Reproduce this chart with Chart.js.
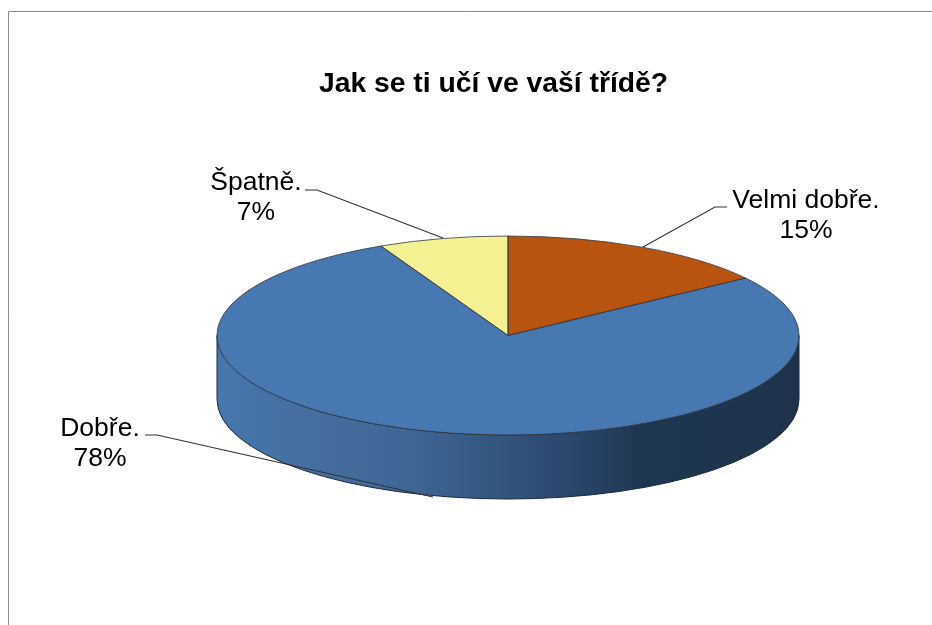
<!DOCTYPE html>
<html>
<head>
<meta charset="utf-8">
<title>Jak se ti učí ve vaší třídě?</title>
<script src="https://cdn.jsdelivr.net/npm/chart.js@4"></script>
<style>
  html, body { margin: 0; padding: 0; background: #fff; }
  #wrap { position: relative; width: 932px; height: 625px; overflow: hidden; }
  #cv { display: block; }
</style>
</head>
<body>
<div id="wrap"><canvas id="cv" width="932" height="625"></canvas></div>
<script>
const chartTitle = 'Jak se ti učí ve vaší třídě?';
const categories = ['Velmi dobře.', 'Dobře.', 'Špatně.'];
const shares = [15.2, 77.6, 7.2]; // labels round them
const sliceColors = ['#b8540f', '#4878b2', '#f4f192'];

// pie is drawn round by the library, then squashed and moved here
const pie = { x: 508, y: 335.5, rx: 291, ry: 99.5, depth: 64 };
const FONT = '"Liberation Sans", Arial, sans-serif';

// label anchor + leader line for each category
const callouts = [
  { x: 806, y: 201, line: [[727, 207], [715, 207], [643, 247]] },
  { x: 100, y: 429, line: [[145, 435], [157, 435], [277, 462], [433, 497]] },
  { x: 256, y: 183, line: [[305, 190], [317, 190], [443, 238]] },
];

function wallGradient(ctx) {
  const g = ctx.createLinearGradient(pie.x - pie.rx, 0, pie.x + pie.rx, 0);
  g.addColorStop(0, '#4777ae');
  g.addColorStop(0.15, '#456f9f');
  g.addColorStop(0.33, '#3f6796');
  g.addColorStop(0.47, '#345780');
  g.addColorStop(0.62, '#29456a');
  g.addColorStop(0.73, '#1f3651');
  g.addColorStop(1, '#1e334b');
  return g;
}

const pie3d = {
  id: 'pie3d',
  beforeDatasetsDraw(chart) {
    const ctx = chart.ctx;
    // wall under the front half of the pie
    ctx.save();
    ctx.beginPath();
    ctx.ellipse(pie.x, pie.y, pie.rx, pie.ry, 0, 0, Math.PI);
    ctx.lineTo(pie.x - pie.rx, pie.y + pie.depth);
    ctx.ellipse(pie.x, pie.y + pie.depth, pie.rx, pie.ry, 0, Math.PI, 0, true);
    ctx.closePath();
    ctx.fillStyle = wallGradient(ctx);
    ctx.fill();
    ctx.strokeStyle = '#1c2a3a';
    ctx.lineWidth = 1;
    ctx.stroke();
    ctx.restore();

    const arc0 = chart.getDatasetMeta(0).data[0];
    ctx.save();
    ctx.translate(pie.x, pie.y);
    ctx.scale(1, pie.ry / pie.rx);
    ctx.translate(-arc0.x, -arc0.y);
  },
  afterDatasetsDraw(chart) {
    const ctx = chart.ctx;
    ctx.restore();
    // outlines are stroked unsquashed so they stay 1px all round
    chart.getDatasetMeta(0).data.forEach((arc) => {
      ctx.beginPath();
      ctx.moveTo(pie.x, pie.y);
      ctx.ellipse(pie.x, pie.y, pie.rx, pie.ry, 0, arc.startAngle, arc.endAngle);
      ctx.closePath();
      ctx.strokeStyle = '#33373d';
      ctx.lineWidth = 0.8;
      ctx.stroke();
    });
    // frame, open on the right like the source
    ctx.beginPath();
    ctx.moveTo(8.5, 625);
    ctx.lineTo(8.5, 11.5);
    ctx.lineTo(932, 11.5);
    ctx.strokeStyle = '#8c8c8c';
    ctx.lineWidth = 1;
    ctx.stroke();
    // leader lines and labels
    categories.forEach((name, i) => {
      const c = callouts[i];
      ctx.beginPath();
      c.line.forEach((p, k) => (k ? ctx.lineTo(p[0], p[1]) : ctx.moveTo(p[0], p[1])));
      ctx.strokeStyle = '#333';
      ctx.lineWidth = 1.2;
      ctx.stroke();
      ctx.fillStyle = '#000';
      ctx.font = '26.5px ' + FONT;
      ctx.textAlign = 'center';
      ctx.textBaseline = 'middle';
      ctx.fillText(name, c.x, c.y);
      ctx.fillText(Math.round(shares[i]) + '%', c.x, c.y + 30);
    });
  },
};

new Chart(document.getElementById('cv'), {
  type: 'pie',
  data: {
    labels: categories,
    datasets: [{
      data: shares,
      backgroundColor: sliceColors,
      borderWidth: 0,
      radius: pie.rx,
      clip: false,
    }],
  },
  options: {
    responsive: false,
    animation: false,
    layout: { padding: { left: 55 } },
    plugins: {
      legend: { display: false },
      tooltip: { enabled: false },
      title: {
        display: true,
        text: chartTitle,
        color: '#000',
        font: { family: FONT, size: 28.3, weight: 'bold' },
        padding: { top: 67, bottom: 10 },
      },
    },
  },
  plugins: [pie3d],
});
</script>
</body>
</html>
